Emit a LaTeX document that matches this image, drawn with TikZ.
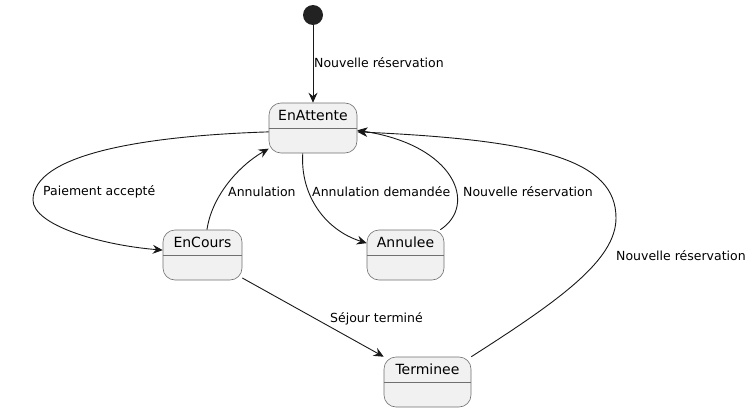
\documentclass[tikz,border=0pt]{standalone}
\usepackage{fontspec}
\setmainfont{DejaVu Sans}
\usetikzlibrary{arrows.meta,calc}
\definecolor{linec}{HTML}{181818}
\definecolor{borderc}{HTML}{707070}
\definecolor{statefill}{HTML}{F1F1F1}
\definecolor{startc}{HTML}{222222}
\tikzset{
  statebox/.style={draw=borderc, line width=0.6pt, fill=statefill, rounded corners=12pt,
    minimum height=50pt, inner sep=0pt},
  statename/.style={font=\fontsize{14}{16}\selectfont, inner sep=0pt, anchor=center},
  lbl/.style={font=\fontsize{12.5}{14}\selectfont, inner sep=0pt, anchor=west},
  edge/.style={draw=linec, line width=0.9pt, -{Stealth[length=10pt,width=9pt,inset=3.5pt]}},
  startdot/.style={circle, fill=startc, minimum size=20pt, inner sep=0pt}
}
\begin{document}
\begin{tikzpicture}[x=1pt,y=-1pt]
\useasboundingbox (0,0) rectangle (752,412);
% start
\node[startdot] (start) at (313,15) {};
% states
\node[statebox, minimum width=88pt] (att) at (313,128) {};
\node[statebox, minimum width=79pt] (cours) at (202.5,255) {};
\node[statebox, minimum width=77pt] (ann) at (405.5,255) {};
\node[statebox, minimum width=87pt] (term) at (427.5,382) {};
% titles and dividers
\foreach \s/\t in {att/EnAttente, cours/EnCours, ann/Annulee, term/Terminee}{
  \node[statename] (\s-title) at ($(\s.north)+(0,13)$) {\t};
  \draw[borderc, line width=0.6pt] ($(\s.north west)+(0,26)$) -- ($(\s.north east)+(0,26)$);
}
% edges
\draw[edge] (start) -- (att);
\draw[edge] (att.185) .. controls (140,136) and (33,155) .. (33,200)
   .. controls (33,225) and (100,245) .. (cours.173);
\draw[edge] (cours.80) .. controls (212,195) and (240,165) .. (att.205);
\draw[edge] (att.248) .. controls (300,195) and (325,230) .. (ann.163);
\draw[edge] (ann.36) .. controls (478,205) and (455,145) .. (att.-3);
\draw[edge] (term.30) .. controls (560,300) and (616,260) .. (616,218)
   .. controls (616,160) and (540,140) .. (att.-5);
\draw[edge] (cours.-30) -- (term.150);
% labels
\node[lbl] (l1) at (314,63) {Nouvelle réservation};
\node[lbl] (l2) at (43,192) {Paiement accepté};
\node[lbl] (l3) at (228,192) {Annulation};
\node[lbl] (l4) at (312,192) {Annulation demandée};
\node[lbl] (l5) at (463,192) {Nouvelle réservation};
\node[lbl] (l6) at (616,256) {Nouvelle réservation};
\node[lbl] (l7) at (330,319) {Séjour terminé};
\end{tikzpicture}
\end{document}
